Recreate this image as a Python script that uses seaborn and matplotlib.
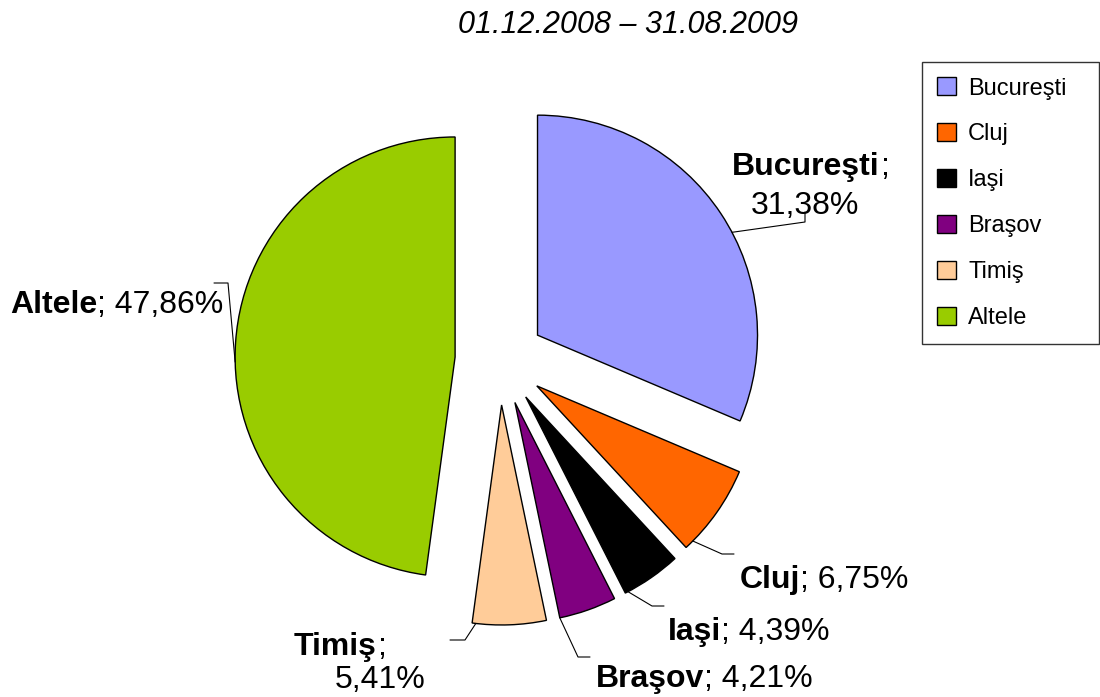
import numpy as np
import matplotlib.pyplot as plt
import matplotlib.patches as mpatches
import seaborn as sns

# data (share of total, %)
regions = ["Bucureşti", "Cluj", "Iaşi", "Braşov", "Timiş", "Altele"]
shares = [31.38, 6.75, 4.39, 4.21, 5.41, 47.86]
share_labels = ["31,38%", "6,75%", "4,39%", "4,21%", "5,41%", "47,86%"]
colors = ["#9999FF", "#FF6600", "#000000", "#800080", "#FFCC99", "#99CC00"]
title = "01.12.2008 – 31.08.2009"

sns.set_theme(style="white")
plt.rcParams["font.family"] = ["Liberation Sans", "DejaVu Sans"]
plt.rcParams["text.color"] = "black"

W, H = 1100, 697
fig = plt.figure(figsize=(W / 100, H / 100), dpi=100)
ax = fig.add_axes([0, 0, 1, 1])

# layout in pixels (y measured from the top)
cx, cy, R = 500, 360, 220
explode = [45, 45, 45, 45, 45, 45]

wedges, _ = ax.pie(
    shares,
    colors=colors,
    startangle=90,
    counterclock=False,
    explode=explode,
    center=(cx, H - cy),
    radius=R,
    wedgeprops=dict(edgecolor="black", linewidth=1.0),
)
ax.set_xlim(0, W)
ax.set_ylim(0, H)
ax.set_aspect("equal")
ax.axis("off")

ax.text(628, H - 25, title, ha="center", va="center", fontsize=22, style="italic")


def arc_point(w, frac):
    t = np.deg2rad(w.theta1 + frac * (w.theta2 - w.theta1))
    return w.center[0] + w.r * np.cos(t), w.center[1] + w.r * np.sin(t)


def leader(w, frac, pts):
    x0, y0 = arc_point(w, frac)
    xs = [x0] + [p[0] for p in pts]
    ys = [y0] + [H - p[1] for p in pts]
    ax.plot(xs, ys, color="black", lw=0.8)


def label(x, y, bold, rest, fs=23):
    t = ax.text(x, H - y, bold, fontsize=fs, fontweight="bold", ha="left", va="baseline")
    ax.annotate(rest, xy=(1, 0), xycoords=t, fontsize=fs, ha="left", va="bottom")


fs = 23
# Bucureşti (two lines)
label(732, 175, regions[0], ";", fs)
ax.text(805, H - 214, share_labels[0], fontsize=fs, ha="center", va="baseline")
leader(wedges[0], 0.45, [(805, 222), (805, 212)])

# Cluj
label(740, 588, regions[1], "; " + share_labels[1], fs)
leader(wedges[1], 0.1, [(722, 554), (734, 554)])

# Iaşi
label(668, 640, regions[2], "; " + share_labels[2], fs)
leader(wedges[2], 0.05, [(652, 606), (664, 606)])

# Braşov
label(596, 687, regions[3], "; " + share_labels[3], fs)
leader(wedges[3], 0.0, [(578, 657), (590, 657)])

# Timiş (two lines)
label(294, 655, regions[4], ";", fs)
ax.text(380, H - 688, share_labels[4], fontsize=fs, ha="center", va="baseline")
leader(wedges[4], 0.05, [(465, 640), (450, 640)])

# Altele
label(10, 313, regions[5], "; " + share_labels[5], fs)
leader(wedges[5], 0.53, [(228, 283), (214, 283)])

handles = [mpatches.Patch(facecolor=c, edgecolor="black", linewidth=1.0, label=r)
           for c, r in zip(colors, regions)]
leg = ax.legend(
    handles=handles,
    loc="upper left",
    bbox_to_anchor=(922 / W, 1 - 340 / H, 177 / W, 278 / H),
    bbox_transform=fig.transFigure,
    mode="expand",
    fontsize=17,
    frameon=True,
    fancybox=False,
    edgecolor="black",
    handlelength=0.8,
    handleheight=0.8,
    handletextpad=0.5,
    labelspacing=1.0,
    borderpad=0.65,
    borderaxespad=0,
)
leg.get_frame().set_linewidth(1.0)

fig.savefig("out.png", dpi=100)
